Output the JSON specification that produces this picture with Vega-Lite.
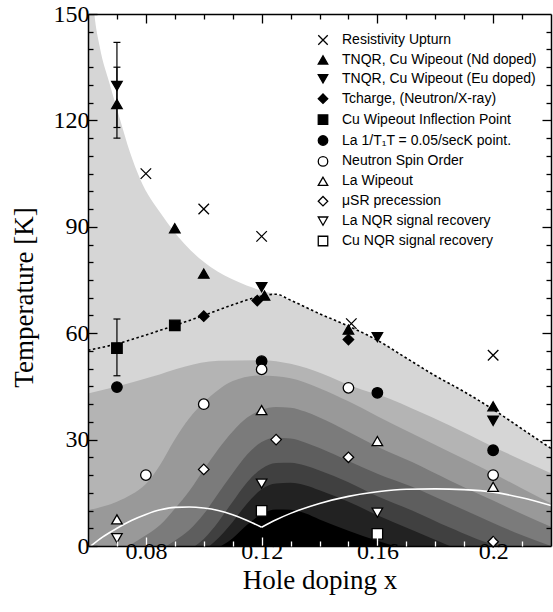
{
"$schema": "https://vega.github.io/schema/vega-lite/v6.json",
"width": 463, "height": 532,
"autosize": {"type": "none"},
"padding": {"left": 88, "top": 14, "right": 2, "bottom": 66},
"background": "white",
"config": {
 "view": {"stroke": null},
 "axis": {"grid": false, "domainColor": "black", "domainWidth": 1.5, "tickColor": "black", "tickWidth": 1.3, "labelFont": "Liberation Serif", "labelColor": "black", "titleFont": "Liberation Serif", "titleColor": "black", "titleFontWeight": "normal", "labelOverlap": false, "labelFlush": false},
 "tick": {"opacity": 1}
},
"resolve": {"axis": {"x": "independent", "y": "independent"}},
"datasets": {
 "bands": [
  {"band":"L","x":0.06,"T":175},{"band":"L","x":0.0622,"T":150},{"band":"L","x":0.064,"T":141},{"band":"L","x":0.0676,"T":130},{"band":"L","x":0.071,"T":120.5},{"band":"L","x":0.0745,"T":111},{"band":"L","x":0.078,"T":103.5},{"band":"L","x":0.0853,"T":93.6},{"band":"L","x":0.0933,"T":85.2},{"band":"L","x":0.1025,"T":78.6},{"band":"L","x":0.1116,"T":74.6},{"band":"L","x":0.12,"T":72},{"band":"L","x":0.125,"T":71},{"band":"L","x":0.13,"T":69.3},{"band":"L","x":0.14,"T":65.5},{"band":"L","x":0.15,"T":62},{"band":"L","x":0.16,"T":58},{"band":"L","x":0.17,"T":53},{"band":"L","x":0.18,"T":48},{"band":"L","x":0.19,"T":43.5},{"band":"L","x":0.2,"T":38.5},{"band":"L","x":0.21,"T":33},{"band":"L","x":0.22,"T":27.5},
  {"band":"B2","x":0.06,"T":43},{"band":"B2","x":0.07,"T":45},{"band":"B2","x":0.082,"T":47.7},{"band":"B2","x":0.093,"T":50.5},{"band":"B2","x":0.105,"T":52.2},{"band":"B2","x":0.12,"T":52.4},{"band":"B2","x":0.13,"T":51.4},{"band":"B2","x":0.141,"T":48.6},{"band":"B2","x":0.152,"T":44.8},{"band":"B2","x":0.164,"T":41.6},{"band":"B2","x":0.172,"T":38.8},{"band":"B2","x":0.185,"T":34},{"band":"B2","x":0.2,"T":28},{"band":"B2","x":0.21,"T":24.2},{"band":"B2","x":0.22,"T":20.5},
  {"band":"B3","x":0.06,"T":10.1},{"band":"B3","x":0.07,"T":12.5},{"band":"B3","x":0.075,"T":14.5},{"band":"B3","x":0.08,"T":17.5},{"band":"B3","x":0.085,"T":23},{"band":"B3","x":0.09,"T":30},{"band":"B3","x":0.095,"T":36},{"band":"B3","x":0.1,"T":40.5},{"band":"B3","x":0.105,"T":44},{"band":"B3","x":0.11,"T":46.5},{"band":"B3","x":0.12,"T":48.1},{"band":"B3","x":0.13,"T":47.3},{"band":"B3","x":0.14,"T":44.5},{"band":"B3","x":0.15,"T":40.8},{"band":"B3","x":0.16,"T":36.6},{"band":"B3","x":0.172,"T":31.7},{"band":"B3","x":0.185,"T":26.5},{"band":"B3","x":0.2,"T":20.5},{"band":"B3","x":0.21,"T":16.2},{"band":"B3","x":0.22,"T":12},
  {"band":"B4","x":0.074,"T":0},{"band":"B4","x":0.08,"T":3},{"band":"B4","x":0.085,"T":6},{"band":"B4","x":0.09,"T":10.5},{"band":"B4","x":0.095,"T":15.5},{"band":"B4","x":0.1,"T":21.5},{"band":"B4","x":0.105,"T":27.3},{"band":"B4","x":0.11,"T":32.3},{"band":"B4","x":0.115,"T":36.2},{"band":"B4","x":0.12,"T":38.4},{"band":"B4","x":0.125,"T":39.2},{"band":"B4","x":0.13,"T":39},{"band":"B4","x":0.135,"T":37.9},{"band":"B4","x":0.14,"T":36.2},{"band":"B4","x":0.15,"T":32.2},{"band":"B4","x":0.16,"T":28},{"band":"B4","x":0.172,"T":23.7},{"band":"B4","x":0.185,"T":18.5},{"band":"B4","x":0.2,"T":12.8},{"band":"B4","x":0.21,"T":9},{"band":"B4","x":0.22,"T":5.4},
  {"band":"B5","x":0.087,"T":0},{"band":"B5","x":0.09,"T":1.5},{"band":"B5","x":0.095,"T":4.5},{"band":"B5","x":0.1,"T":9},{"band":"B5","x":0.105,"T":14.8},{"band":"B5","x":0.11,"T":20.5},{"band":"B5","x":0.115,"T":25.8},{"band":"B5","x":0.12,"T":29.3},{"band":"B5","x":0.125,"T":30.5},{"band":"B5","x":0.13,"T":30.3},{"band":"B5","x":0.135,"T":29.2},{"band":"B5","x":0.14,"T":27.6},{"band":"B5","x":0.15,"T":24},{"band":"B5","x":0.16,"T":20.4},{"band":"B5","x":0.172,"T":16.7},{"band":"B5","x":0.185,"T":12},{"band":"B5","x":0.2,"T":6.5},{"band":"B5","x":0.21,"T":3},{"band":"B5","x":0.22,"T":0},
  {"band":"B6","x":0.097,"T":0},{"band":"B6","x":0.1,"T":2},{"band":"B6","x":0.105,"T":6.8},{"band":"B6","x":0.11,"T":12.5},{"band":"B6","x":0.115,"T":18},{"band":"B6","x":0.12,"T":21.8},{"band":"B6","x":0.125,"T":23.4},{"band":"B6","x":0.13,"T":23.5},{"band":"B6","x":0.135,"T":22.7},{"band":"B6","x":0.14,"T":21.3},{"band":"B6","x":0.15,"T":18},{"band":"B6","x":0.16,"T":14},{"band":"B6","x":0.172,"T":10},{"band":"B6","x":0.185,"T":5.2},{"band":"B6","x":0.2,"T":0.5},{"band":"B6","x":0.203,"T":0},
  {"band":"B7","x":0.102,"T":0},{"band":"B7","x":0.105,"T":2.2},{"band":"B7","x":0.11,"T":6.8},{"band":"B7","x":0.115,"T":12},{"band":"B7","x":0.12,"T":16},{"band":"B7","x":0.125,"T":17.6},{"band":"B7","x":0.13,"T":17.8},{"band":"B7","x":0.135,"T":17.1},{"band":"B7","x":0.14,"T":15.7},{"band":"B7","x":0.15,"T":12.5},{"band":"B7","x":0.16,"T":8.7},{"band":"B7","x":0.172,"T":4.5},{"band":"B7","x":0.185,"T":0},
  {"band":"B8","x":0.106,"T":0},{"band":"B8","x":0.11,"T":2.2},{"band":"B8","x":0.115,"T":6},{"band":"B8","x":0.12,"T":9},{"band":"B8","x":0.125,"T":10.3},{"band":"B8","x":0.13,"T":10.2},{"band":"B8","x":0.135,"T":9.2},{"band":"B8","x":0.14,"T":7.5},{"band":"B8","x":0.15,"T":4.3},{"band":"B8","x":0.16,"T":1.5},{"band":"B8","x":0.166,"T":0}
 ],
 "dotted": [
  {"x":0.06,"T":55.2},{"x":0.07,"T":57},{"x":0.08,"T":59.5},{"x":0.09,"T":62.2},{"x":0.1,"T":65},{"x":0.11,"T":68},{"x":0.12,"T":70.5},{"x":0.125,"T":71},{"x":0.13,"T":69.3},{"x":0.14,"T":65.5},{"x":0.15,"T":62},{"x":0.16,"T":58},{"x":0.17,"T":53},{"x":0.18,"T":48},{"x":0.19,"T":43.5},{"x":0.2,"T":38.5},{"x":0.21,"T":33},{"x":0.22,"T":27.5}
 ],
 "white": [
  {"seg":"a","x":0.061,"T":0},{"seg":"a","x":0.065,"T":2.5},{"seg":"a","x":0.07,"T":5},{"seg":"a","x":0.075,"T":7.2},{"seg":"a","x":0.08,"T":8.9},{"seg":"a","x":0.085,"T":10.2},{"seg":"a","x":0.09,"T":10.9},{"seg":"a","x":0.095,"T":11},{"seg":"a","x":0.1,"T":10.7},{"seg":"a","x":0.105,"T":10},{"seg":"a","x":0.11,"T":8.8},{"seg":"a","x":0.115,"T":7.2},{"seg":"a","x":0.12,"T":5.3},
  {"seg":"b","x":0.12,"T":5.3},{"seg":"b","x":0.125,"T":7.4},{"seg":"b","x":0.13,"T":9.2},{"seg":"b","x":0.14,"T":12},{"seg":"b","x":0.15,"T":14},{"seg":"b","x":0.16,"T":15.3},{"seg":"b","x":0.17,"T":16},{"seg":"b","x":0.18,"T":16.1},{"seg":"b","x":0.19,"T":15.9},{"seg":"b","x":0.2,"T":15.2},{"seg":"b","x":0.21,"T":13.6},{"seg":"b","x":0.22,"T":11.4}
 ],
 "err": [
  {"x":0.07,"lo":118,"hi":142},{"x":0.07,"lo":115,"hi":135},{"x":0.07,"lo":48,"hi":64}
 ],
 "pts": [
  {"s":"Resistivity Upturn","x":0.08,"T":105},{"s":"Resistivity Upturn","x":0.1,"T":95},{"s":"Resistivity Upturn","x":0.12,"T":87.3},{"s":"Resistivity Upturn","x":0.151,"T":62.7},{"s":"Resistivity Upturn","x":0.2,"T":53.8},
  {"s":"TNQR, Cu Wipeout (Nd doped)","x":0.07,"T":124.6},{"s":"TNQR, Cu Wipeout (Nd doped)","x":0.09,"T":89.6},{"s":"TNQR, Cu Wipeout (Nd doped)","x":0.1,"T":76.8},{"s":"TNQR, Cu Wipeout (Nd doped)","x":0.121,"T":70.6},{"s":"TNQR, Cu Wipeout (Nd doped)","x":0.15,"T":61},{"s":"TNQR, Cu Wipeout (Nd doped)","x":0.2,"T":39.4},
  {"s":"TNQR, Cu Wipeout (Eu doped)","x":0.07,"T":129.7},{"s":"TNQR, Cu Wipeout (Eu doped)","x":0.12,"T":73},{"s":"TNQR, Cu Wipeout (Eu doped)","x":0.16,"T":58.9},{"s":"TNQR, Cu Wipeout (Eu doped)","x":0.2,"T":35.3},
  {"s":"Tcharge, (Neutron/X-ray)","x":0.1,"T":64.8},{"s":"Tcharge, (Neutron/X-ray)","x":0.1185,"T":69.2},{"s":"Tcharge, (Neutron/X-ray)","x":0.15,"T":58.2},
  {"s":"Cu Wipeout Inflection Point","x":0.07,"T":55.8},{"s":"Cu Wipeout Inflection Point","x":0.09,"T":62.2},
  {"s":"La 1/T₁T = 0.05/secK point.","x":0.07,"T":44.8},{"s":"La 1/T₁T = 0.05/secK point.","x":0.12,"T":52.1},{"s":"La 1/T₁T = 0.05/secK point.","x":0.16,"T":43.2},{"s":"La 1/T₁T = 0.05/secK point.","x":0.2,"T":27},
  {"s":"Neutron Spin Order","x":0.08,"T":20},{"s":"Neutron Spin Order","x":0.1,"T":40},{"s":"Neutron Spin Order","x":0.12,"T":49.8},{"s":"Neutron Spin Order","x":0.15,"T":44.6},{"s":"Neutron Spin Order","x":0.2,"T":20},
  {"s":"La Wipeout","x":0.07,"T":7.5},{"s":"La Wipeout","x":0.12,"T":38.3},{"s":"La Wipeout","x":0.16,"T":29.6},{"s":"La Wipeout","x":0.2,"T":16.7},
  {"s":"μSR precession","x":0.1,"T":21.6},{"s":"μSR precession","x":0.125,"T":30},{"s":"μSR precession","x":0.15,"T":25},{"s":"μSR precession","x":0.2,"T":1.2},
  {"s":"La NQR signal recovery","x":0.07,"T":2.2},{"s":"La NQR signal recovery","x":0.12,"T":17.6},{"s":"La NQR signal recovery","x":0.16,"T":9.4},
  {"s":"Cu NQR signal recovery","x":0.12,"T":9.9},{"s":"Cu NQR signal recovery","x":0.16,"T":3.4}
 ]
},
"layer": [
 {"data": {"name": "bands"}, "transform": [{"filter": "datum.band == 'L'"}],
  "mark": {"type": "area", "color": "#d6d6d6", "interpolate": "monotone", "clip": true},
  "encoding": {
   "x": {"field": "x", "type": "quantitative", "scale": {"domain": [0.06, 0.22], "nice": false, "zero": false},
    "axis": {"orient": "bottom", "zindex": 2, "domain": true, "ticks": true, "values": [0.08,0.12,0.16,0.2], "format": "~g", "tickSize": -9,
     "tickColor": "white", "labelFontSize": 24, "labelPadding": 2,
     "title": "Hole doping x", "titleFontSize": 27, "titlePadding": 4}},
   "y": {"field": "T", "type": "quantitative", "scale": {"domain": [0, 150], "nice": false},
    "axis": {"orient": "left", "zindex": 2, "domain": true, "ticks": true, "values": [0,30,60,90,120,150], "tickSize": -9,
     "labelFontSize": 24, "labelPadding": 8,
     "title": "Temperature  [K]", "titleFontSize": 27, "titleX": -64, "titleY": 283, "titleBaseline": "middle", "titleAngle": 270}},
   "y2": {"datum": 0}
  }},
 {"data": {"name": "bands"}, "transform": [{"filter": "datum.band == 'B2'"}],
  "mark": {"type": "area", "color": "#b4b4b4", "interpolate": "monotone", "clip": true},
  "encoding": {
   "x": {"field": "x", "type": "quantitative", "scale": {"domain": [0.06, 0.22], "nice": false, "zero": false},
    "axis": {"orient": "bottom", "zindex": 2, "ticks": true, "values": [0.07,0.09,0.1,0.11,0.13,0.14,0.15,0.17,0.18,0.19,0.21], "labels": false, "title": null, "domain": false, "tickSize": -5, "tickColor": "white"}},
   "y": {"field": "T", "type": "quantitative", "scale": {"domain": [0, 150], "nice": false},
    "axis": {"orient": "left", "zindex": 2, "ticks": true, "values": [5,10,15,20,25,35,40,45,50,55,65,70,75,80,85,95,100,105,110,115,125,130,135,140,145], "labels": false, "title": null, "domain": false, "tickSize": -5}},
   "y2": {"datum": 0}
  }},
 {"data": {"name": "bands"}, "transform": [{"filter": "datum.band == 'B3'"}],
  "mark": {"type": "area", "color": "#999999", "interpolate": "monotone", "clip": true},
  "encoding": {
   "x": {"field": "x", "type": "quantitative", "scale": {"domain": [0.06, 0.22], "nice": false, "zero": false},
    "axis": {"orient": "top", "zindex": 2, "domain": true, "ticks": true, "values": [0.08,0.12,0.16,0.2], "labels": false, "title": null, "tickSize": -9}},
   "y": {"field": "T", "type": "quantitative", "scale": {"domain": [0, 150], "nice": false},
    "axis": {"orient": "right", "zindex": 2, "domain": true, "ticks": true, "values": [30,60,90,120], "labels": false, "title": null, "tickSize": -9}},
   "y2": {"datum": 0}}},
 {"data": {"name": "bands"}, "transform": [{"filter": "datum.band == 'B4'"}],
  "mark": {"type": "area", "color": "#7b7b7b", "interpolate": "monotone", "clip": true},
  "encoding": {
   "x": {"field": "x", "type": "quantitative", "scale": {"domain": [0.06, 0.22], "nice": false, "zero": false},
    "axis": {"orient": "top", "zindex": 2, "ticks": true, "values": [0.07,0.09,0.1,0.11,0.13,0.14,0.15,0.17,0.18,0.19,0.21], "labels": false, "title": null, "domain": false, "tickSize": -5}},
   "y": {"field": "T", "type": "quantitative", "scale": {"domain": [0, 150], "nice": false},
    "axis": {"orient": "right", "zindex": 2, "ticks": true, "values": [5,10,15,20,25,35,40,45,50,55,65,70,75,80,85,95,100,105,110,115,125,130,135,140,145], "labels": false, "title": null, "domain": false, "tickSize": -5}},
   "y2": {"datum": 0}}},
 {"data": {"name": "bands"}, "transform": [{"filter": "datum.band == 'B5'"}],
  "mark": {"type": "area", "color": "#5e5e5e", "interpolate": "monotone", "clip": true},
  "encoding": {"x": {"field": "x", "type": "quantitative", "scale": {"domain": [0.06, 0.22], "nice": false, "zero": false}, "axis": null},
   "y": {"field": "T", "type": "quantitative", "scale": {"domain": [0, 150], "nice": false}, "axis": null}, "y2": {"datum": 0}}},
 {"data": {"name": "bands"}, "transform": [{"filter": "datum.band == 'B6'"}],
  "mark": {"type": "area", "color": "#404040", "interpolate": "monotone", "clip": true},
  "encoding": {"x": {"field": "x", "type": "quantitative", "scale": {"domain": [0.06, 0.22], "nice": false, "zero": false}, "axis": null},
   "y": {"field": "T", "type": "quantitative", "scale": {"domain": [0, 150], "nice": false}, "axis": null}, "y2": {"datum": 0}}},
 {"data": {"name": "bands"}, "transform": [{"filter": "datum.band == 'B7'"}],
  "mark": {"type": "area", "color": "#222222", "interpolate": "monotone", "clip": true},
  "encoding": {"x": {"field": "x", "type": "quantitative", "scale": {"domain": [0.06, 0.22], "nice": false, "zero": false}, "axis": null},
   "y": {"field": "T", "type": "quantitative", "scale": {"domain": [0, 150], "nice": false}, "axis": null}, "y2": {"datum": 0}}},
 {"data": {"name": "bands"}, "transform": [{"filter": "datum.band == 'B8'"}],
  "mark": {"type": "area", "color": "#000000", "interpolate": "monotone", "clip": true},
  "encoding": {"x": {"field": "x", "type": "quantitative", "scale": {"domain": [0.06, 0.22], "nice": false, "zero": false}, "axis": null},
   "y": {"field": "T", "type": "quantitative", "scale": {"domain": [0, 150], "nice": false}, "axis": null}, "y2": {"datum": 0}}},
 {"data": {"name": "white"},
  "mark": {"type": "line", "color": "white", "strokeWidth": 1.6, "interpolate": "monotone", "clip": true},
  "encoding": {"x": {"field": "x", "type": "quantitative", "scale": {"domain": [0.06, 0.22], "nice": false, "zero": false}, "axis": null},
   "y": {"field": "T", "type": "quantitative", "scale": {"domain": [0, 150], "nice": false}, "axis": null},
   "detail": {"field": "seg", "type": "nominal"}}},
 {"data": {"name": "dotted"},
  "mark": {"type": "line", "color": "black", "strokeWidth": 1.6, "strokeDash": [2.5, 2.5], "interpolate": "monotone", "clip": true},
  "encoding": {"x": {"field": "x", "type": "quantitative", "scale": {"domain": [0.06, 0.22], "nice": false, "zero": false}, "axis": null},
   "y": {"field": "T", "type": "quantitative", "scale": {"domain": [0, 150], "nice": false}, "axis": null}}},
 {"data": {"name": "err"},
  "mark": {"type": "rule", "color": "black", "strokeWidth": 1.2},
  "encoding": {"x": {"field": "x", "type": "quantitative", "scale": {"domain": [0.06, 0.22], "nice": false, "zero": false}, "axis": null},
   "y": {"field": "lo", "type": "quantitative", "scale": {"domain": [0, 150], "nice": false}, "axis": null},
   "y2": {"field": "hi"}}},
 {"data": {"name": "err"},
  "mark": {"type": "tick", "orient": "horizontal", "color": "black", "size": 7, "thickness": 1.2, "opacity": 1},
  "encoding": {"x": {"field": "x", "type": "quantitative", "scale": {"domain": [0.06, 0.22], "nice": false, "zero": false}, "axis": null},
   "y": {"field": "lo", "type": "quantitative", "scale": {"domain": [0, 150], "nice": false}, "axis": null}}},
 {"data": {"name": "err"},
  "mark": {"type": "tick", "orient": "horizontal", "color": "black", "size": 7, "thickness": 1.2, "opacity": 1},
  "encoding": {"x": {"field": "x", "type": "quantitative", "scale": {"domain": [0.06, 0.22], "nice": false, "zero": false}, "axis": null},
   "y": {"field": "hi", "type": "quantitative", "scale": {"domain": [0, 150], "nice": false}, "axis": null}}},
 {"data": {"name": "pts"},
  "mark": {"type": "point", "stroke": "black", "strokeWidth": 1.3, "size": 110, "opacity": 1, "fillOpacity": 1},
  "encoding": {"x": {"field": "x", "type": "quantitative", "scale": {"domain": [0.06, 0.22], "nice": false, "zero": false}, "axis": null},
   "y": {"field": "T", "type": "quantitative", "scale": {"domain": [0, 150], "nice": false}, "axis": null},
   "shape": {"field": "s", "type": "nominal",
    "scale": {"domain": ["Resistivity Upturn","TNQR, Cu Wipeout (Nd doped)","TNQR, Cu Wipeout (Eu doped)","Tcharge, (Neutron/X-ray)","Cu Wipeout Inflection Point","La 1/T₁T = 0.05/secK point.","Neutron Spin Order","La Wipeout","μSR precession","La NQR signal recovery","Cu NQR signal recovery"],
     "range": ["M-1,-1L1,1M1,-1L-1,1","triangle-up","triangle-down","diamond","square","circle","circle","triangle-up","diamond","triangle-down","square"]},
    "legend": {"orient": "none", "legendX": 228, "legendY": 19, "title": null, "padding": 0, "labelFont": "Liberation Sans", "labelFontSize": 14, "labelColor": "black", "labelLimit": 400, "labelOffset": 12, "rowPadding": 4.9, "symbolSize": 90, "symbolStrokeColor": "black", "symbolStrokeWidth": 1.3, "symbolOpacity": 1,
     "encode": {"symbols": {"update": {"stroke": {"value": "black"}, "strokeWidth": {"value": 1.3}}}}}},
   "fill": {"field": "s", "type": "nominal",
    "scale": {"domain": ["Resistivity Upturn","TNQR, Cu Wipeout (Nd doped)","TNQR, Cu Wipeout (Eu doped)","Tcharge, (Neutron/X-ray)","Cu Wipeout Inflection Point","La 1/T₁T = 0.05/secK point.","Neutron Spin Order","La Wipeout","μSR precession","La NQR signal recovery","Cu NQR signal recovery"],
     "range": ["transparent","black","black","black","black","black","white","white","white","white","white"]},
    "legend": {"orient": "none", "legendX": 228, "legendY": 19, "title": null, "padding": 0, "labelFont": "Liberation Sans", "labelFontSize": 14, "labelColor": "black", "labelLimit": 400, "labelOffset": 12, "rowPadding": 4.9, "symbolSize": 90, "symbolStrokeColor": "black", "symbolStrokeWidth": 1.3, "symbolOpacity": 1,
     "encode": {"symbols": {"update": {"stroke": {"value": "black"}, "strokeWidth": {"value": 1.3}}}}}}
  }}
]
}
